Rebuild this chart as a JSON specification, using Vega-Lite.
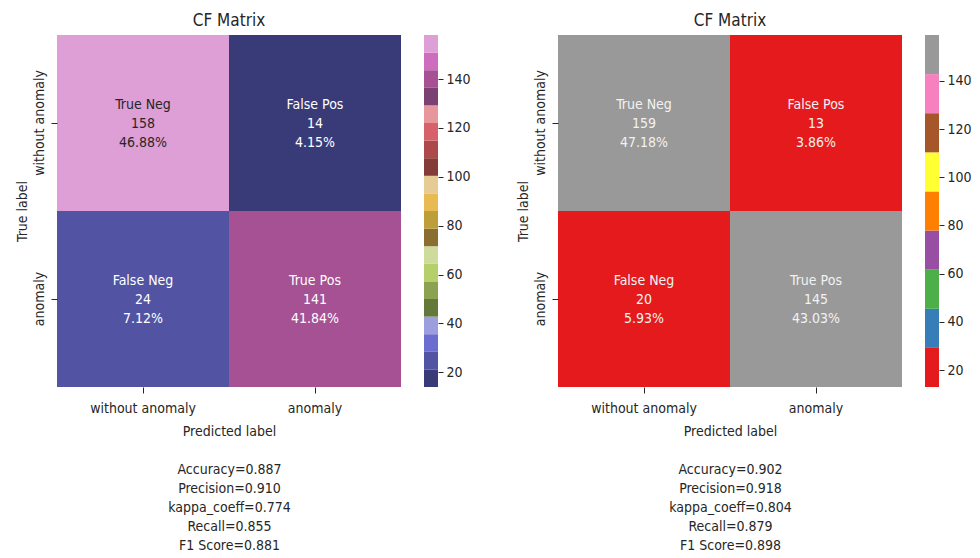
{
  "$schema": "https://vega.github.io/schema/vega-lite/v6.json",
  "background": "white",
  "padding": {"left": 14, "top": 12, "right": 5, "bottom": 5},
  "config": {
    "font": "DejaVu Sans Condensed",
    "view": {"stroke": null},
    "axis": {
      "labelFontSize": 14,
      "titleFontSize": 14,
      "labelColor": "#262626",
      "titleColor": "#262626",
      "tickColor": "#262626",
      "titleFontWeight": "normal",
      "domain": false,
      "grid": false,
      "tickSize": 6
    },
    "axisX": {"labelPadding": 8, "titlePadding": 9, "titleLineHeight": 19},
    "axisY": {"labelPadding": 5, "titlePadding": 3},
    "title": {"fontSize": 17, "fontWeight": "normal", "color": "#262626", "offset": 5, "baseline": "alphabetic"}
  },
  "datasets": {
    "left": [
      {"pred": "without anomaly", "actual": "without anomaly", "name": "True Neg", "count": 158, "pct": "46.88%"},
      {"pred": "anomaly", "actual": "without anomaly", "name": "False Pos", "count": 14, "pct": "4.15%"},
      {"pred": "without anomaly", "actual": "anomaly", "name": "False Neg", "count": 24, "pct": "7.12%"},
      {"pred": "anomaly", "actual": "anomaly", "name": "True Pos", "count": 141, "pct": "41.84%"}
    ],
    "right": [
      {"pred": "without anomaly", "actual": "without anomaly", "name": "True Neg", "count": 159, "pct": "47.18%"},
      {"pred": "anomaly", "actual": "without anomaly", "name": "False Pos", "count": 13, "pct": "3.86%"},
      {"pred": "without anomaly", "actual": "anomaly", "name": "False Neg", "count": 20, "pct": "5.93%"},
      {"pred": "anomaly", "actual": "anomaly", "name": "True Pos", "count": 145, "pct": "43.03%"}
    ],
    "barL": [
      {"lo": 14, "hi": 21.2, "mid": 17.6},
      {"lo": 21.2, "hi": 28.4, "mid": 24.8},
      {"lo": 28.4, "hi": 35.6, "mid": 32},
      {"lo": 35.6, "hi": 42.8, "mid": 39.2},
      {"lo": 42.8, "hi": 50, "mid": 46.4},
      {"lo": 50, "hi": 57.2, "mid": 53.6},
      {"lo": 57.2, "hi": 64.4, "mid": 60.8},
      {"lo": 64.4, "hi": 71.6, "mid": 68},
      {"lo": 71.6, "hi": 78.8, "mid": 75.2},
      {"lo": 78.8, "hi": 86, "mid": 82.4},
      {"lo": 86, "hi": 93.2, "mid": 89.6},
      {"lo": 93.2, "hi": 100.4, "mid": 96.8},
      {"lo": 100.4, "hi": 107.6, "mid": 104},
      {"lo": 107.6, "hi": 114.8, "mid": 111.2},
      {"lo": 114.8, "hi": 122, "mid": 118.4},
      {"lo": 122, "hi": 129.2, "mid": 125.6},
      {"lo": 129.2, "hi": 136.4, "mid": 132.8},
      {"lo": 136.4, "hi": 143.6, "mid": 140},
      {"lo": 143.6, "hi": 150.8, "mid": 147.2},
      {"lo": 150.8, "hi": 158, "mid": 154.4}
    ],
    "barR": [
      {"lo": 13, "hi": 29.22, "mid": 21.11},
      {"lo": 29.22, "hi": 45.44, "mid": 37.33},
      {"lo": 45.44, "hi": 61.67, "mid": 53.56},
      {"lo": 61.67, "hi": 77.89, "mid": 69.78},
      {"lo": 77.89, "hi": 94.11, "mid": 86},
      {"lo": 94.11, "hi": 110.33, "mid": 102.22},
      {"lo": 110.33, "hi": 126.56, "mid": 118.44},
      {"lo": 126.56, "hi": 142.78, "mid": 134.67},
      {"lo": 142.78, "hi": 159, "mid": 150.89}
    ]
  },
  "spacing": 44,
  "resolve": {"scale": {"color": "independent"}},
  "hconcat": [
    {
      "bounds": "flush",
      "spacing": 23,
      "resolve": {"scale": {"color": "independent"}},
      "hconcat": [
        {
          "width": 344,
          "height": 352,
          "title": {"text": "CF Matrix"},
          "data": {"name": "left"},
          "encoding": {
            "x": {"field": "pred", "type": "nominal", "sort": ["without anomaly", "anomaly"],
                  "axis": {"labelAngle": 0, "title": ["Predicted label", "\u2800", "Accuracy=0.887", "Precision=0.910", "kappa_coeff=0.774", "Recall=0.855", "F1 Score=0.881"]}},
            "y": {"field": "actual", "type": "nominal", "sort": ["without anomaly", "anomaly"],
                  "axis": {"labelAngle": -90, "title": "True label"}}
          },
          "layer": [
            {"mark": {"type": "rect"},
             "encoding": {"color": {"field": "count", "type": "quantitative", "legend": null,
               "scale": {"type": "quantize", "domain": [14, 158],
                 "range": ["#393b79", "#5254a3", "#6b6ecf", "#9c9ede", "#637939", "#8ca252", "#b5cf6b", "#cedb9c", "#8c6d31", "#bd9e39", "#e7ba52", "#e7cb94", "#843c39", "#ad494a", "#d6616b", "#e7969c", "#7b4173", "#a55194", "#ce6dbd", "#de9ed6"]}}}},
            {"mark": {"type": "text", "fontSize": 14, "dy": -18},
             "encoding": {"text": {"field": "name"}, "color": {"condition": {"test": "datum.count > 150", "value": "#262626"}, "value": "#ffffff"}}},
            {"mark": {"type": "text", "fontSize": 14, "dy": 1},
             "encoding": {"text": {"field": "count"}, "color": {"condition": {"test": "datum.count > 150", "value": "#262626"}, "value": "#ffffff"}}},
            {"mark": {"type": "text", "fontSize": 14, "dy": 20},
             "encoding": {"text": {"field": "pct"}, "color": {"condition": {"test": "datum.count > 150", "value": "#262626"}, "value": "#ffffff"}}}
          ]
        },
        {
          "width": 14,
          "height": 352,
          "data": {"name": "barL"},
          "mark": {"type": "rect"},
          "encoding": {
            "y": {"field": "lo", "type": "quantitative", "scale": {"domain": [14, 158], "nice": false, "zero": false},
                  "axis": {"orient": "right", "values": [20, 40, 60, 80, 100, 120, 140], "title": null, "tickSize": 5, "labelPadding": 3}},
            "y2": {"field": "hi"},
            "color": {"field": "mid", "type": "quantitative", "legend": null,
              "scale": {"type": "quantize", "domain": [14, 158],
                "range": ["#393b79", "#5254a3", "#6b6ecf", "#9c9ede", "#637939", "#8ca252", "#b5cf6b", "#cedb9c", "#8c6d31", "#bd9e39", "#e7ba52", "#e7cb94", "#843c39", "#ad494a", "#d6616b", "#e7969c", "#7b4173", "#a55194", "#ce6dbd", "#de9ed6"]}}
          }
        }
      ]
    },
    {
      "bounds": "flush",
      "spacing": 23,
      "resolve": {"scale": {"color": "independent"}},
      "hconcat": [
        {
          "width": 344,
          "height": 352,
          "title": {"text": "CF Matrix"},
          "data": {"name": "right"},
          "encoding": {
            "x": {"field": "pred", "type": "nominal", "sort": ["without anomaly", "anomaly"],
                  "axis": {"labelAngle": 0, "title": ["Predicted label", "\u2800", "Accuracy=0.902", "Precision=0.918", "kappa_coeff=0.804", "Recall=0.879", "F1 Score=0.898"]}},
            "y": {"field": "actual", "type": "nominal", "sort": ["without anomaly", "anomaly"],
                  "axis": {"labelAngle": -90, "title": "True label"}}
          },
          "layer": [
            {"mark": {"type": "rect"},
             "encoding": {"color": {"field": "count", "type": "quantitative", "legend": null,
               "scale": {"type": "quantize", "domain": [13, 159],
                 "range": ["#e41a1c", "#377eb8", "#4daf4a", "#984ea3", "#ff7f00", "#ffff33", "#a65628", "#f781bf", "#999999"]}}}},
            {"mark": {"type": "text", "fontSize": 14, "dy": -18, "color": "#f2f2f2"},
             "encoding": {"text": {"field": "name"}}},
            {"mark": {"type": "text", "fontSize": 14, "dy": 1, "color": "#f2f2f2"},
             "encoding": {"text": {"field": "count"}}},
            {"mark": {"type": "text", "fontSize": 14, "dy": 20, "color": "#f2f2f2"},
             "encoding": {"text": {"field": "pct"}}}
          ]
        },
        {
          "width": 14,
          "height": 352,
          "data": {"name": "barR"},
          "mark": {"type": "rect"},
          "encoding": {
            "y": {"field": "lo", "type": "quantitative", "scale": {"domain": [13, 159], "nice": false, "zero": false},
                  "axis": {"orient": "right", "values": [20, 40, 60, 80, 100, 120, 140], "title": null, "tickSize": 5, "labelPadding": 3}},
            "y2": {"field": "hi"},
            "color": {"field": "mid", "type": "quantitative", "legend": null,
              "scale": {"type": "quantize", "domain": [13, 159],
                "range": ["#e41a1c", "#377eb8", "#4daf4a", "#984ea3", "#ff7f00", "#ffff33", "#a65628", "#f781bf", "#999999"]}}
          }
        }
      ]
    }
  ]
}
